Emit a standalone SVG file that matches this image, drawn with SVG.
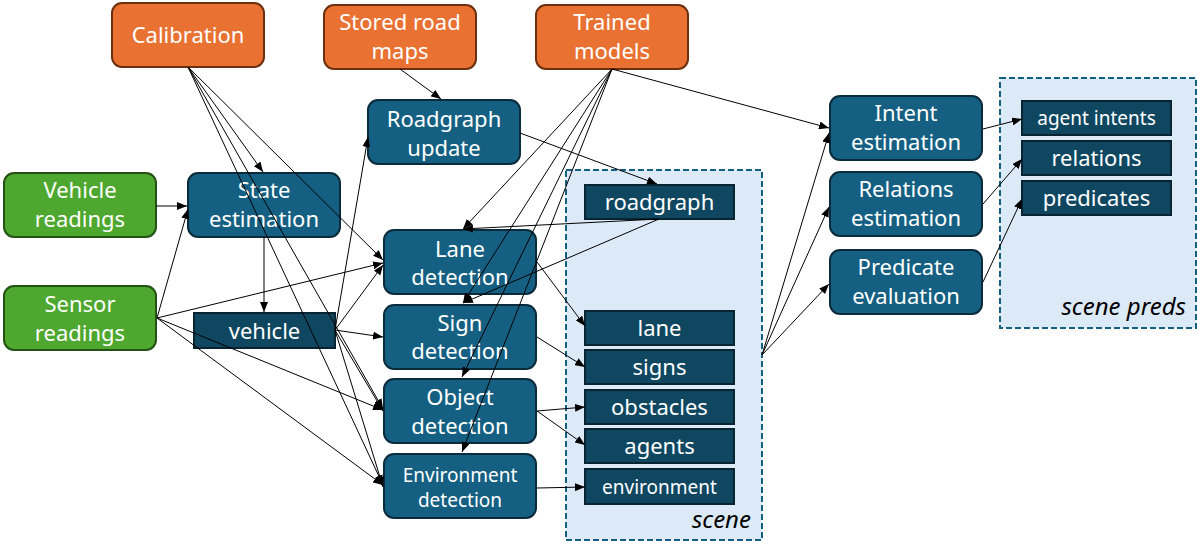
<svg xmlns="http://www.w3.org/2000/svg" width="1198" height="541" viewBox="0 0 1198 541">
<defs>
<marker id="ah" viewBox="0 0 10 8" refX="10" refY="4" markerWidth="10" markerHeight="8" markerUnits="userSpaceOnUse" orient="auto">
<path d="M0,0 L10,4 L0,8 z" fill="#000"/>
</marker>
<style>
.t{font-family:"Noto Sans","Liberation Sans",sans-serif;font-size:22px;fill:#fff;text-anchor:middle}
.s{font-size:19px}
.lbl{font-family:"Noto Sans","Liberation Sans",sans-serif;font-size:24px;font-style:italic;fill:#000;text-anchor:end}
.src{fill:#E97132;stroke:#6E2F0F;stroke-width:2}
.inp{fill:#4EA72E;stroke:#245214;stroke-width:2}
.proc{fill:#156082;stroke:#0A2B3B;stroke-width:2}
.data{fill:#0F4761;stroke:#082433;stroke-width:2}
.grp{fill:#DCE9F6;stroke:#156082;stroke-width:2;stroke-dasharray:6 3}
.c line{stroke:#000;stroke-width:1;marker-end:url(#ah)}
</style>
</defs>
<rect width="1198" height="541" fill="#fff"/>
<g id="scene">
<rect class="grp" x="566" y="170" width="196" height="370"/>
<text class="lbl" x="751" y="528">scene</text>
</g>
<g id="scene-preds">
<rect class="grp" x="1000" y="78" width="196" height="250"/>
<text class="lbl" x="1186" y="315">scene preds</text>
</g>
<g id="calibration"><rect class="src" x="112" y="3" width="152" height="64" rx="10"/><text class="t" x="188" y="43">Calibration</text></g>
<g id="stored-road-maps"><rect class="src" x="324" y="5" width="152" height="64" rx="10"/><text class="t" x="400" y="30">Stored road</text><text class="t" x="400" y="59">maps</text></g>
<g id="trained-models"><rect class="src" x="536" y="5" width="152" height="64" rx="10"/><text class="t" x="612" y="30">Trained</text><text class="t" x="612" y="59">models</text></g>
<g id="vehicle-readings"><rect class="inp" x="4" y="173" width="152" height="64" rx="10"/><text class="t" x="80" y="198">Vehicle</text><text class="t" x="80" y="227">readings</text></g>
<g id="sensor-readings"><rect class="inp" x="4" y="286" width="152" height="64" rx="10"/><text class="t" x="80" y="312">Sensor</text><text class="t" x="80" y="341">readings</text></g>
<g id="state-estimation"><rect class="proc" x="188" y="173" width="152" height="64" rx="10"/><text class="t" x="264" y="198">State</text><text class="t" x="264" y="227">estimation</text></g>
<g id="vehicle"><rect class="data" x="194" y="313" width="141" height="35"/><text class="t" x="264.5" y="339">vehicle</text></g>
<g id="roadgraph-update"><rect class="proc" x="368" y="100" width="152" height="64" rx="10"/><text class="t" x="444" y="127">Roadgraph</text><text class="t" x="444" y="156">update</text></g>
<g id="lane-detection"><rect class="proc" x="384" y="230" width="152" height="64" rx="10"/><text class="t" x="460" y="257">Lane</text><text class="t" x="460" y="285">detection</text></g>
<g id="sign-detection"><rect class="proc" x="384" y="305" width="152" height="64" rx="10"/><text class="t" x="460" y="331">Sign</text><text class="t" x="460" y="359">detection</text></g>
<g id="object-detection"><rect class="proc" x="384" y="379" width="152" height="64" rx="10"/><text class="t" x="460" y="405">Object</text><text class="t" x="460" y="434">detection</text></g>
<g id="environment-detection"><rect class="proc" x="384" y="454" width="152" height="64" rx="10"/><text class="t s" x="460" y="482">Environment</text><text class="t s" x="460" y="507">detection</text></g>
<g id="roadgraph"><rect class="data" x="585" y="185" width="149" height="34"/><text class="t" x="659.5" y="210">roadgraph</text></g>
<g id="lane"><rect class="data" x="585" y="311" width="149" height="34"/><text class="t" x="659.5" y="336">lane</text></g>
<g id="signs"><rect class="data" x="585" y="350" width="149" height="34"/><text class="t" x="659.5" y="375">signs</text></g>
<g id="obstacles"><rect class="data" x="585" y="390" width="149" height="34"/><text class="t" x="659.5" y="415">obstacles</text></g>
<g id="agents"><rect class="data" x="585" y="429" width="149" height="34"/><text class="t" x="659.5" y="454">agents</text></g>
<g id="environment"><rect class="data" x="585" y="469" width="149" height="35"/><text class="t s" x="659.5" y="494">environment</text></g>
<g id="intent-estimation"><rect class="proc" x="830" y="96" width="152" height="64" rx="10"/><text class="t" x="906" y="121">Intent</text><text class="t" x="906" y="150">estimation</text></g>
<g id="relations-estimation"><rect class="proc" x="830" y="172" width="152" height="64" rx="10"/><text class="t" x="906" y="197">Relations</text><text class="t" x="906" y="226">estimation</text></g>
<g id="predicate-evaluation"><rect class="proc" x="830" y="250" width="152" height="64" rx="10"/><text class="t" x="906" y="275">Predicate</text><text class="t" x="906" y="304">evaluation</text></g>
<g id="agent-intents"><rect class="data" x="1022" y="101" width="149" height="34"/><text class="t s" x="1096.5" y="125">agent intents</text></g>
<g id="relations"><rect class="data" x="1022" y="141" width="149" height="34"/><text class="t" x="1096.5" y="166">relations</text></g>
<g id="predicates"><rect class="data" x="1022" y="181" width="149" height="34"/><text class="t" x="1096.5" y="206">predicates</text></g>
<g id="connectors" class="c">
<line x1="188" y1="67" x2="263" y2="172"/>
<line x1="188" y1="67" x2="383" y2="260"/>
<line x1="188" y1="67" x2="383" y2="409"/>
<line x1="188" y1="67" x2="383" y2="485"/>
<line x1="156" y1="206" x2="187" y2="206"/>
<line x1="157" y1="318" x2="188" y2="209"/>
<line x1="157" y1="318" x2="383" y2="263"/>
<line x1="157" y1="318" x2="383" y2="410"/>
<line x1="157" y1="318" x2="383" y2="485"/>
<line x1="264" y1="237" x2="264" y2="312"/>
<line x1="335" y1="330" x2="368" y2="137"/>
<line x1="335" y1="330" x2="383" y2="265"/>
<line x1="335" y1="330" x2="383" y2="337"/>
<line x1="335" y1="330" x2="383" y2="411"/>
<line x1="335" y1="330" x2="383" y2="487"/>
<line x1="400" y1="69" x2="441" y2="99"/>
<line x1="520" y1="133" x2="657" y2="184"/>
<line x1="612" y1="69" x2="463" y2="229"/>
<line x1="612" y1="69" x2="463" y2="303"/>
<line x1="612" y1="69" x2="462" y2="377"/>
<line x1="612" y1="69" x2="462" y2="452"/>
<line x1="612" y1="69" x2="829" y2="128"/>
<line x1="659" y1="219" x2="463" y2="229"/>
<line x1="659" y1="219" x2="463" y2="303"/>
<line x1="537" y1="262" x2="585" y2="326"/>
<line x1="537" y1="337" x2="585" y2="367"/>
<line x1="537" y1="411" x2="585" y2="407"/>
<line x1="537" y1="411" x2="585" y2="445"/>
<line x1="537" y1="488" x2="585" y2="487"/>
<line x1="762" y1="355" x2="829" y2="133"/>
<line x1="762" y1="355" x2="829" y2="207"/>
<line x1="762" y1="355" x2="829" y2="284"/>
<line x1="983" y1="129" x2="1022" y2="119"/>
<line x1="983" y1="204" x2="1022" y2="159"/>
<line x1="983" y1="282" x2="1022" y2="199"/>
</g>
</svg>
